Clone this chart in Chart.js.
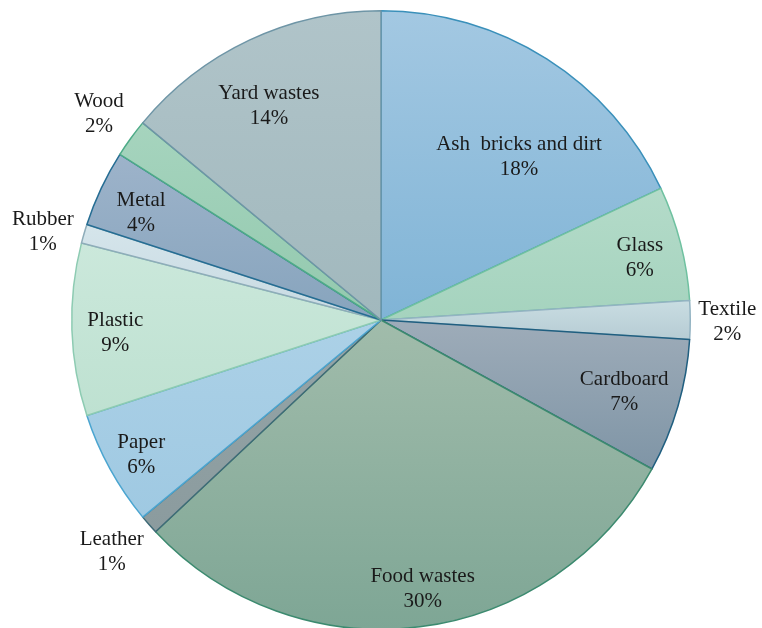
<!DOCTYPE html>
<html>
<head>
<meta charset="utf-8">
<script src="https://cdn.jsdelivr.net/npm/chart.js@4/dist/chart.umd.min.js"></script>
<style>
  html, body { margin: 0; padding: 0; background: #fff; overflow: hidden; }
  #wrap { position: relative; width: 762px; height: 640px; }
</style>
</head>
<body>
<div id="wrap"><canvas id="waste-chart" width="762" height="640"></canvas></div>
<script>
// Waste composition (%), clockwise from 12 o'clock
const categories = ['Ash  bricks and dirt', 'Glass', 'Textile', 'Cardboard', 'Food wastes', 'Leather',
                    'Paper', 'Plastic', 'Rubber', 'Metal', 'Wood', 'Yard wastes'];
const shares = [18, 6, 2, 7, 30, 1, 6, 9, 1, 4, 2, 14];

// fill gradient (top -> bottom of each slice) and outline colour
const fillTop    = ['#a3c8e2', '#b4dbc9', '#c9dde2', '#9eacb9', '#a1bcab', '#95a5a8',
                    '#acd1e7', '#cbe8db', '#d5e5eb', '#9db3ca', '#a6d4be', '#b0c4c9'];
const fillBottom = ['#80b4d6', '#a5d3be', '#b6ccd4', '#7f95a6', '#7ea695', '#8b9b9e',
                    '#9fc9e2', '#bee1d1', '#c8dae2', '#87a4bd', '#93c9ae', '#a1b8bd'];
const outline    = ['#3a90ba', '#6fc1a0', '#93b3c2', '#205f80', '#3c8a6f', '#3e6a76',
                    '#4ba5d0', '#8dcbb2', '#8eacb9', '#256d93', '#4eab88', '#6e95a6'];

// label placement: radius as a fraction of the pie radius, angle shift in degrees
const labelRadius = [0.69, 0.86, 1.12, 0.82, 0.88, 1.15, 0.89, 0.86, 1.13, 0.85, 1.13, 0.78];
const labelShift  = [7.9, 1, 0.3, 0.3, -1.6, 0.6, -0.6, -1, -1.6, -1.1, 0.2, -2.5];

const sliceGradient = {
    id: 'sliceGradient',
    beforeDatasetsDraw(chart) {
        const ctx = chart.ctx;
        chart.getDatasetMeta(0).data.forEach((arc, i) => {
            const { x, y, startAngle, endAngle, outerRadius } = arc.getProps(['x', 'y', 'startAngle', 'endAngle', 'outerRadius']);
            let ys = [y, y + outerRadius * Math.sin(startAngle), y + outerRadius * Math.sin(endAngle)];
            for (let k = -2; k <= 2; k++) {
                const top = -Math.PI / 2 + k * 2 * Math.PI;
                const bot = Math.PI / 2 + k * 2 * Math.PI;
                if (top > startAngle && top < endAngle) ys.push(y - outerRadius);
                if (bot > startAngle && bot < endAngle) ys.push(y + outerRadius);
            }
            const g = ctx.createLinearGradient(0, Math.min(...ys), 0, Math.max(...ys));
            g.addColorStop(0, fillTop[i]);
            g.addColorStop(1, fillBottom[i]);
            arc.options.backgroundColor = g;
        });
    }
};

const sliceLabels = {
    id: 'sliceLabels',
    afterDatasetsDraw(chart) {
        const ctx = chart.ctx;
        ctx.save();
        ctx.font = '21px "Liberation Serif", "Times New Roman", serif';
        ctx.fillStyle = '#1a1a1a';
        ctx.textAlign = 'center';
        ctx.textBaseline = 'middle';
        chart.getDatasetMeta(0).data.forEach((arc, i) => {
            const { x, y, startAngle, endAngle, outerRadius } = arc.getProps(['x', 'y', 'startAngle', 'endAngle', 'outerRadius']);
            const a = (startAngle + endAngle) / 2 + labelShift[i] * Math.PI / 180;
            const r = outerRadius * labelRadius[i];
            const lx = x + r * Math.cos(a);
            const ly = y + r * Math.sin(a);
            ctx.fillText(categories[i], lx, ly - 12.5);
            ctx.fillText(shares[i] + '%', lx, ly + 12.5);
        });
        ctx.restore();
    }
};

new Chart(document.getElementById('waste-chart'), {
    type: 'pie',
    data: {
        labels: categories,
        datasets: [{
            data: shares,
            backgroundColor: fillBottom,
            borderColor: outline,
            borderWidth: 1.5,
            borderJoinStyle: 'round'
        }]
    },
    options: {
        responsive: false,
        animation: false,
        layout: { padding: { top: 10, bottom: 10, left: 0, right: 0 } },
        plugins: {
            legend: { display: false },
            tooltip: { enabled: false }
        }
    },
    plugins: [sliceGradient, sliceLabels]
});
</script>
</body>
</html>
